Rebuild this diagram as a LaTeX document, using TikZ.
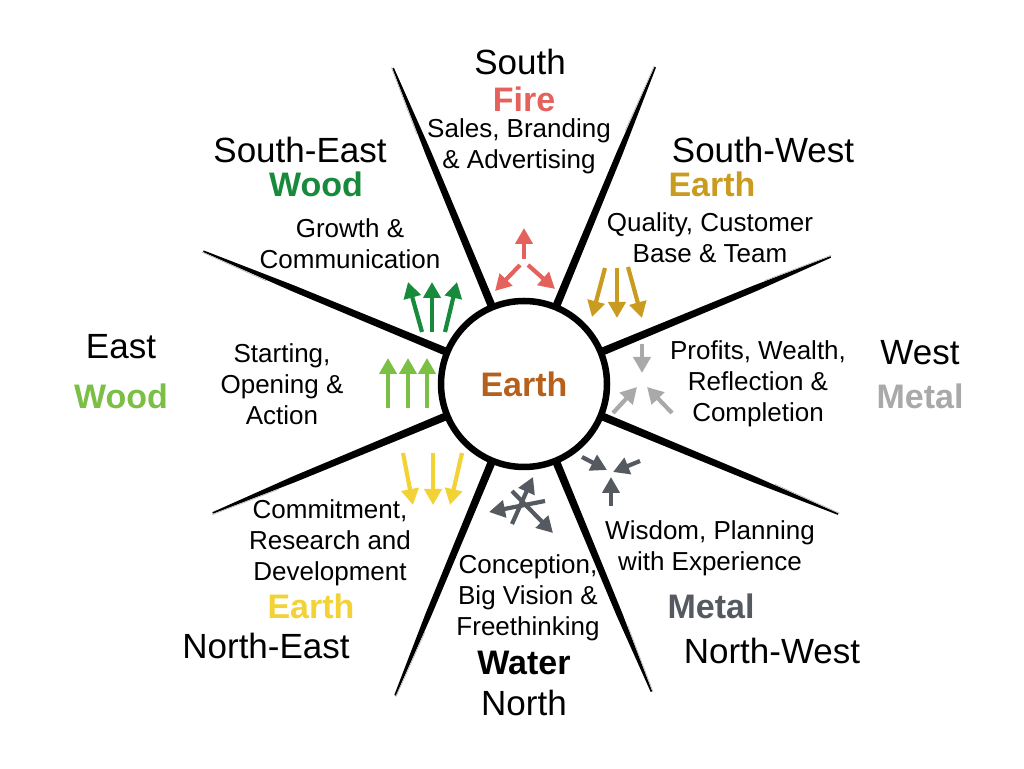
\documentclass[tikz,border=0pt]{standalone}
\usepackage{fontspec}
\setmainfont{Liberation Sans}
\usetikzlibrary{arrows.meta}
\definecolor{fire}{HTML}{E5625C}
\definecolor{wooddark}{HTML}{178A3C}
\definecolor{woodlight}{HTML}{7BBF44}
\definecolor{earthgold}{HTML}{C99B1E}
\definecolor{earthcenter}{HTML}{B5601C}
\definecolor{metallight}{HTML}{A9A9A9}
\definecolor{earthyellow}{HTML}{F2D234}
\definecolor{metaldark}{HTML}{555960}
\begin{document}
\begin{tikzpicture}[x=1pt,y=1pt,
  dirlabel/.style={font=\fontsize{35}{40}\selectfont, inner sep=0pt},
  elemlabel/.style={font=\bfseries\fontsize{34}{38}\selectfont, inner sep=0pt},
  desclabel/.style={font=\fontsize{26}{31}\selectfont, align=center, inner sep=0pt},
  arr/.style={line width=4.2pt, -{Triangle[length=16pt 0,width=17pt 0]}}]
\useasboundingbox (0,0) rectangle (1024,768);
\fill[white] (0,0) rectangle (1024,768);

% brush lines
\foreach \a/\R in {112.5/342, 67.5/343, 157.5/347, 22.5/332, 202.5/337, -22.5/340, 247.5/337, 292.5/333}{
  \begin{scope}[shift={(524,384)}, rotate=\a]
    \fill[black] (78,-4) -- (250,-3.1) -- (\R,-0.8) -- (\R,0.8) -- (250,3.1) -- (78,4) -- cycle;
    \draw[gray!60, line width=0.6pt] (\R-70,3.4) -- (\R+1,1.4);
  \end{scope}
}

% hub
\node[circle, draw=black, line width=6.5pt, fill=white, minimum size=166pt, inner sep=0pt,
      font=\bfseries\fontsize{34}{38}\selectfont, text=earthcenter] (hub) at (524,384) {Earth};

% South
\node[dirlabel] (south) at (520,706) {South};
\node[elemlabel, text=fire] (fire) at (524,669) {Fire};
\node[desclabel] (sales) at (519,622) {Sales, Branding\\\& Advertising};
% South-East
\node[dirlabel] (se) at (300,618) {South-East};
\node[elemlabel, text=wooddark] (sewood) at (316,584) {Wood};
\node[desclabel] (growth) at (350,524) {Growth \&\\Communication};
% South-West
\node[dirlabel] (sw) at (763,618) {South-West};
\node[elemlabel, text=earthgold] (swearth) at (712,584) {Earth};
\node[desclabel] (quality) at (710,530) {Quality, Customer\\Base \& Team};
% East
\node[dirlabel] (east) at (121,421) {East};
\node[elemlabel, text=woodlight] (eastwood) at (121,372) {Wood};
\node[desclabel] (starting) at (282,384) {Starting,\\Opening \&\\Action};
% West
\node[dirlabel] (west) at (920,415) {West};
\node[elemlabel, text=metallight] (westmetal) at (920,372) {Metal};
\node[desclabel] (profits) at (758,384) {Profits, Wealth,\\Reflection \&\\Completion};
% North-East
\node[desclabel] (commit) at (330,225) {Commitment,\\Research and\\Development};
\node[elemlabel, text=earthyellow] (neearth) at (311,162) {Earth};
\node[dirlabel] (ne) at (266,122) {North-East};
% North
\node[desclabel] (concept) at (528,170) {Conception,\\Big Vision \&\\Freethinking};
\node[elemlabel, text=black] (water) at (524,105) {Water};
\node[dirlabel] (north) at (524,65) {North};
% North-West
\node[desclabel] (wisdom) at (710,220) {Wisdom, Planning\\with Experience};
\node[elemlabel, text=metaldark] (nwmetal) at (711,162) {Metal};
\node[dirlabel] (nw) at (772,117) {North-West};

% arrows: fire (divergent)
\draw[arr, fire] (524,509) -- (524,540);
\draw[arr, fire] (520,503) -- (495,477);
\draw[arr, fire] (528,503) -- (555,479);
% wood dark (up)
\draw[arr, wooddark] (422,436) -- (408,486);
\draw[arr, wooddark] (432,436) -- (432,486);
\draw[arr, wooddark] (445,436) -- (457,486);
% wood light (up)
\draw[arr, woodlight] (388,360) -- (388,410);
\draw[arr, woodlight] (408,360) -- (408,410);
\draw[arr, woodlight] (427,360) -- (427,410);
% earth gold (down)
\draw[arr, earthgold] (605,500) -- (592,451);
\draw[arr, earthgold] (617,500) -- (617,450);
\draw[arr, earthgold] (628,501) -- (642,450);
% earth yellow (down)
\draw[arr, earthyellow] (403,315) -- (413,263);
\draw[arr, earthyellow] (433,315) -- (433,263);
\draw[arr, earthyellow] (462,315) -- (450,263);
% metal light (convergent)
\draw[arr, metallight] (642,424) -- (642,395);
\draw[arr, metallight] (613,355) -- (637,381);
\draw[arr, metallight] (672,355) -- (647,381);
% metal dark (convergent)
\draw[arr, metaldark] (582,311) -- (607,298);
\draw[arr, metaldark] (640,307) -- (613,296);
\draw[arr, metaldark] (611,262) -- (611,291);
% water (crossed)
\draw[arr, metaldark] (512,244) -- (533,291);
\draw[arr, metaldark] (545,267) -- (489,256);
\draw[arr, metaldark] (512,277) -- (553,235);
\end{tikzpicture}
\end{document}
